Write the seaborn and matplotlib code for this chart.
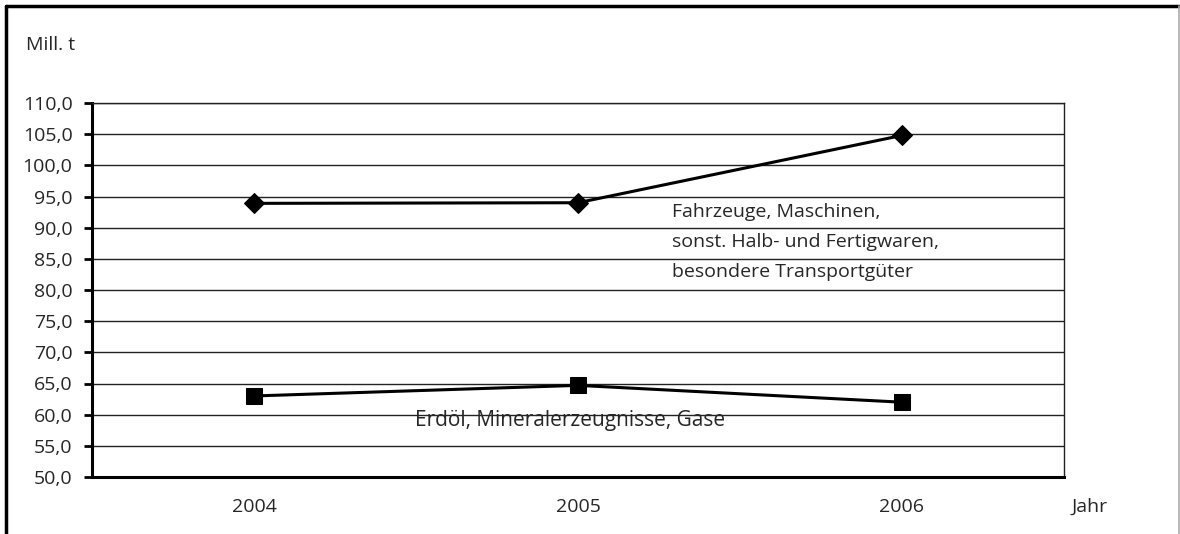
import matplotlib
matplotlib.use("Agg")
import matplotlib.pyplot as plt
from matplotlib.lines import Line2D
import seaborn as sns
import pandas as pd

years = ["2004", "2005", "2006"]
fahrzeuge = [93.9, 94.0, 104.8]
erdoel = [63.0, 64.7, 62.0]
yticks = [50, 55, 60, 65, 70, 75, 80, 85, 90, 95, 100, 105, 110]

sns.set_theme(style="white")
plt.rcParams['font.family'] = ['Open Sans', 'DejaVu Sans']
FS = 14

fig = plt.figure(figsize=(11.8, 5.34), dpi=100)
ax = fig.add_axes([92/1180, 1-477/534, (1064-92)/1180, (477-103)/534])

df = pd.DataFrame({"Jahr": list(range(len(years))) * 2,
                   "Wert": fahrzeuge + erdoel,
                   "Serie": ["F"] * 3 + ["E"] * 3})

for y in yticks:
    ax.axhline(y, color="#222222", lw=1.0, zorder=0)

sns.lineplot(data=df[df.Serie == "F"], x="Jahr", y="Wert", ax=ax, color="black",
             lw=2.2, marker="D", markersize=10.5, markeredgecolor="black", legend=False)
sns.lineplot(data=df[df.Serie == "E"], x="Jahr", y="Wert", ax=ax, color="black",
             lw=2.2, marker="s", markersize=11, markeredgecolor="black", legend=False)

ax.set_xlim(-0.5, 2.5)
ax.set_ylim(50, 110)
ax.set_yticks(yticks)
ax.set_yticklabels([f"{v},0" for v in yticks], fontsize=FS)
ax.set_xticks([-0.5, 0.5, 1.5, 2.5])
ax.set_xticklabels([])
ax.set_xticks([0, 1, 2], minor=True)
ax.set_xticklabels(years, minor=True, fontsize=FS)
ax.tick_params(axis="x", which="major", direction="out", length=7, width=2, color="black")
ax.tick_params(axis="x", which="minor", length=0, pad=15)
ax.tick_params(axis="y", direction="out", length=6, width=2, color="black", pad=8, left=True)
ax.set_xlabel("")
ax.set_ylabel("")

for s in ["left", "bottom"]:
    ax.spines[s].set_color("black")
    ax.spines[s].set_linewidth(2.2)
for s in ["right", "top"]:
    ax.spines[s].set_visible(True)
    ax.spines[s].set_color("#222222")
    ax.spines[s].set_linewidth(1.0)

ax.text(1.29, 87.7, "Fahrzeuge, Maschinen,\nsonst. Halb- und Fertigwaren,\nbesondere Transportgüter",
        fontsize=FS, va="center", ha="left", linespacing=1.85)
ax.text(0.975, 59.1, "Erdöl, Mineralerzeugnisse, Gase", fontsize=15, va="center", ha="center")

fig.text(26/1180, 1-45/534, "Mill. t", fontsize=FS, va="center", ha="left")
fig.text(1072/1180, 1-507/534, "Jahr", fontsize=FS, va="center", ha="left")

# figure frame
fig.add_artist(Line2D([6/1180, 6/1180], [0, 1-6/534], transform=fig.transFigure, color="black", lw=2.5))
fig.add_artist(Line2D([6/1180, 1179/1180], [1-6/534, 1-6/534], transform=fig.transFigure, color="black", lw=2.5))
fig.add_artist(Line2D([1179/1180, 1179/1180], [0, 1-6/534], transform=fig.transFigure, color="#aaaaaa", lw=1.2))

fig.savefig("out.png", dpi=100)
